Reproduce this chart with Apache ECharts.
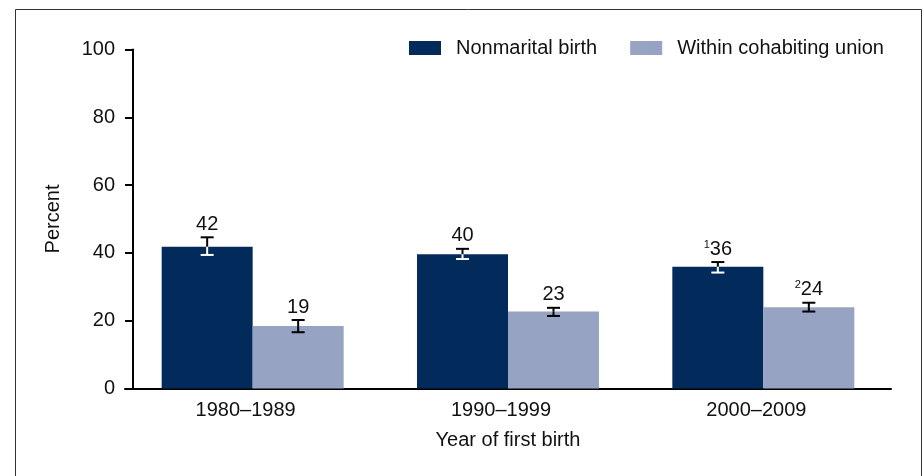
<!DOCTYPE html>
<html>
<head>
<meta charset="utf-8">
<script src="https://cdn.jsdelivr.net/npm/echarts@6/dist/echarts.min.js"></script>
<style>
  html, body { margin: 0; padding: 0; background: #fff; }
  #chart { width: 924px; height: 476px; }
</style>
</head>
<body>
<div id="chart"></div>
<script>
// data
const categories = ['1980–1989', '1990–1999', '2000–2009'];
const nonmarital = [41.8, 39.6, 35.9];
const nonmaritalLow = [39.4, 38.2, 34.2];
const nonmaritalHigh = [44.6, 41.2, 37.3];
const nonmaritalLabels = ['42', '40', '{sup|1}36'];
const cohabiting = [18.4, 22.7, 24.0];
const cohabitingLow = [16.6, 21.4, 22.7];
const cohabitingHigh = [20.2, 23.8, 25.3];
const cohabitingLabels = ['19', '23', '{sup|2}24'];
const yTicks = [0, 20, 40, 60, 80, 100];

const FONT = '"Liberation Sans", Arial, sans-serif';
const DARK = '#022b5c';
const LIGHT = '#97a3c2';
const BAR_W = 91;

// error bar: black above the bar top, `inner` colour where it sits over the bar
function errorBars(side, inner, labels) {
  return function (params, api) {
    const ci = api.value(0);
    const hi = api.coord([ci, api.value(1)]);
    const lo = api.coord([ci, api.value(2)]);
    const top = api.coord([ci, api.value(3)]);
    const x = hi[0] + side * BAR_W / 2;
    const cap = 6.5;
    const outSt = { stroke: '#000', lineWidth: 2 };
    const inSt = { stroke: inner, lineWidth: 2 };
    const mid = Math.max(hi[1], Math.min(lo[1], top[1]));
    const children = [];
    if (mid > hi[1]) children.push({ type: 'line', shape: { x1: x, y1: hi[1], x2: x, y2: mid }, style: outSt });
    if (lo[1] > mid) children.push({ type: 'line', shape: { x1: x, y1: mid, x2: x, y2: lo[1] }, style: inSt });
    children.push({ type: 'line', shape: { x1: x - cap, y1: hi[1], x2: x + cap, y2: hi[1] }, style: hi[1] < top[1] ? outSt : inSt });
    children.push({ type: 'line', shape: { x1: x - cap, y1: lo[1], x2: x + cap, y2: lo[1] }, style: lo[1] < top[1] ? outSt : inSt });
    children.push({
      type: 'text',
      style: {
        text: labels[params.dataIndex],
        x: x, y: hi[1] - 3,
        align: 'center', verticalAlign: 'bottom',
        fill: '#111', fontSize: 20, fontFamily: FONT,
        rich: { sup: { fontSize: 11, fontFamily: FONT, verticalAlign: 'top', fill: '#111' } }
      }
    });
    return { type: 'group', children: children };
  };
}

const chart = echarts.init(document.getElementById('chart'));
chart.setOption({
  animation: false,
  textStyle: { fontFamily: FONT },
  graphic: [{
    type: 'rect', z: -10,
    shape: { x: 15.5, y: 9.5, width: 906, height: 500 },
    style: { fill: 'none', stroke: '#333', lineWidth: 1 }
  }],
  legend: {
    left: 409, top: 38, padding: 0,
    itemWidth: 32, itemHeight: 14, itemGap: 33,
    icon: 'rect',
    textStyle: { fontSize: 20, color: '#111', padding: [0, 0, 0, 10] },
    data: ['Nonmarital birth', 'Within cohabiting union']
  },
  grid: { left: 125, right: 33, top: 49.5, bottom: 87.5 },
  xAxis: {
    type: 'category',
    data: categories,
    name: 'Year of first birth',
    nameLocation: 'middle',
    nameGap: 42,
    nameTextStyle: { fontSize: 20, color: '#111' },
    axisLine: { lineStyle: { color: '#000', width: 2 } },
    axisTick: { show: false },
    axisLabel: { fontSize: 20, color: '#111', margin: 12, padding: [0, 14, 0, 0] }
  },
  yAxis: {
    type: 'value',
    min: yTicks[0], max: yTicks[yTicks.length - 1], interval: 20,
    offset: -8,
    name: 'Percent',
    nameLocation: 'middle',
    nameGap: 70,
    nameTextStyle: { fontSize: 20, color: '#111' },
    axisLine: { show: true, lineStyle: { color: '#000', width: 2 } },
    axisTick: { show: true, length: 8, lineStyle: { color: '#000', width: 2 } },
    axisLabel: { fontSize: 20, color: '#111', margin: 18 },
    splitLine: { show: false }
  },
  series: [
    {
      name: 'Nonmarital birth', type: 'bar', data: nonmarital,
      barWidth: BAR_W, barGap: '0%',
      itemStyle: { color: DARK }
    },
    {
      name: 'Within cohabiting union', type: 'bar', data: cohabiting,
      barWidth: BAR_W, barGap: '0%',
      itemStyle: { color: LIGHT }
    },
    {
      type: 'custom', z: 5,
      renderItem: errorBars(-1, '#fff', nonmaritalLabels),
      data: categories.map((c, i) => [i, nonmaritalHigh[i], nonmaritalLow[i], nonmarital[i]])
    },
    {
      type: 'custom', z: 5,
      renderItem: errorBars(1, '#000', cohabitingLabels),
      data: categories.map((c, i) => [i, cohabitingHigh[i], cohabitingLow[i], cohabiting[i]])
    }
  ]
});
</script>
</body>
</html>
